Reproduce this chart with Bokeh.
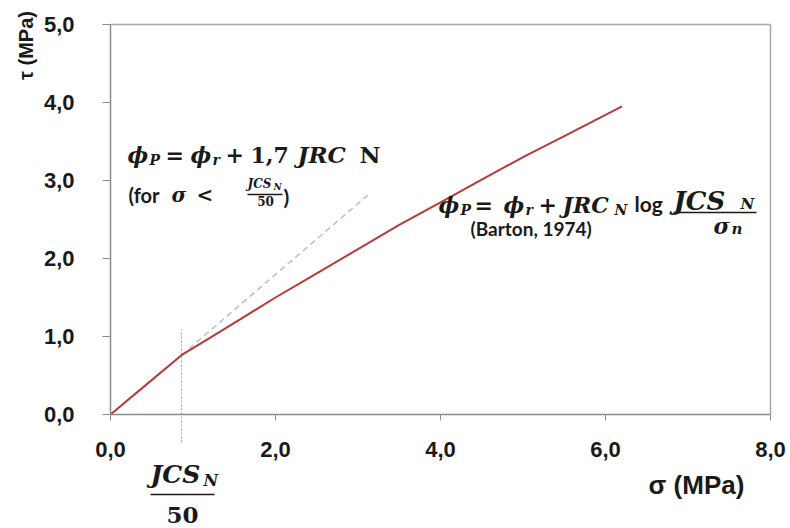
import math
from bokeh.plotting import figure
from bokeh.models import Range1d, Label, FixedTicker
from bokeh.embed import file_html
from bokeh.resources import INLINE

# ---- data ----
sigma = [0, 0.43, 0.86, 1.2, 1.6, 2.0, 2.5, 3.0, 3.5, 4.0, 4.5, 5.0, 5.5, 6.0, 6.2]
tau = [0, 0.38, 0.76, 0.98, 1.24, 1.50, 1.81, 2.12, 2.43, 2.72, 3.01, 3.30, 3.57, 3.84, 3.95]
linear_sigma = [0.86, 3.15]
linear_tau = [0.76, 2.84]
jcs50_sigma = 0.86
jcs50_line_top = 1.09
x_ticks = [0, 2, 4, 6, 8]
x_tick_labels = ["0,0", "2,0", "4,0", "6,0", "8,0"]
y_ticks = [0, 1, 2, 3, 4, 5]
y_tick_labels = ["0,0", "1,0", "2,0", "3,0", "4,0", "5,0"]
XMIN, XMAX, YMIN, YMAX = 0, 8, 0, 5

# pixel geometry of the data box (used to place annotations)
W, H = 790, 528
FX0, FY0, FW, FH = 110, 414, 660, 390
BASE_SHIFT = 7  # alphabetic labels render a little lower than their anchor


def dx(px):
    return XMIN + (px - FX0) * (XMAX - XMIN) / FW


def dy(py):
    return YMIN + (FY0 - py) * (YMAX - YMIN) / FH


p = figure(frame_width=W, frame_height=H, x_range=Range1d(dx(0), dx(W)), y_range=Range1d(dy(H), dy(0)),
           output_backend="svg", toolbar_location=None, min_border=0,
           min_border_left=0, min_border_right=0, min_border_top=0, min_border_bottom=0)
p.xgrid.visible = False
p.ygrid.visible = False
p.outline_line_color = None
p.background_fill_color = "white"
p.border_fill_color = "white"

for ax, ticks, labels, bounds in ((p.xaxis[0], x_ticks, x_tick_labels, (XMIN, XMAX)),
                                  (p.yaxis[0], y_ticks, y_tick_labels, (YMIN, YMAX))):
    ax.fixed_location = 0
    ax.bounds = bounds
    ax.ticker = FixedTicker(ticks=ticks)
    ax.major_label_overrides = {t: l for t, l in zip(ticks, labels)}
    ax.minor_tick_line_color = None
    ax.axis_line_color = "#8c8c8c"
    ax.axis_line_width = 1.5
    ax.major_tick_line_color = "#8c8c8c"
    ax.major_tick_in = 0
    ax.major_label_text_font = "Liberation Sans"
    ax.major_label_text_font_style = "bold"
    ax.major_label_text_font_size = "22px"
    ax.major_label_text_color = "#1a1a1a"
p.yaxis[0].major_tick_out = 8
p.yaxis[0].major_label_standoff = 28
p.xaxis[0].major_tick_out = 6
p.xaxis[0].major_label_standoff = 21

# plot box top and right borders
p.segment(x0=[XMIN, XMAX], y0=[YMAX, YMIN], x1=[XMAX, XMAX], y1=[YMAX, YMAX],
          line_color="#a6a6a6", line_width=1.5)

# ---- marks ----
p.line(linear_sigma, linear_tau, line_color="#b0c0cc", line_width=1.5, line_dash="6 4")
p.line([jcs50_sigma, jcs50_sigma], [dy(442), jcs50_line_top], line_color="#a0a8b0", line_width=1.2,
       line_dash="2 2")
p.line(sigma, tau, line_color="#b83a3a", line_width=2)

TXT = "#1a1a1a"
SERIF = "DejaVu Serif"
SANS = "Lato"


def lab(xp, yp, text, size, font=SERIF, style="bold italic", align="left", baseline="alphabetic", angle=0):
    if baseline == "alphabetic":
        yp = yp - BASE_SHIFT
    p.add_layout(Label(x=dx(xp), y=dy(yp), text=text, text_font=font, text_font_style=style,
                       text_font_size=f"{size}px", text_color=TXT, text_align=align,
                       text_baseline=baseline, angle=angle))


def bar(x1, x2, yp):
    p.line([dx(x1), dx(x2)], [dy(yp), dy(yp)], line_color=TXT, line_width=1.5)


# axis titles
lab(25, 45, "τ (MPa)", 20, font="Liberation Sans", style="bold", align="center", baseline="middle",
    angle=math.pi / 2)
lab(696, 491, "σ (MPa)", 26, font="Liberation Sans", style="bold", align="center")

# formula 1
lab(127, 161, "ϕ", 22)
lab(149, 166, "P", 14)
lab(165, 161, "=", 22, style="bold")
lab(190, 161, "ϕ", 22)
lab(212, 166, "r", 14)
lab(225, 161, "+", 22, style="bold")
lab(250, 161, "1,7", 22, style="bold")
lab(297, 161, "JRC", 23)
lab(359, 161, "N", 23, style="bold")
# (for sigma < JCS_N/50)
lab(128, 201, "(for", 20, font=SANS, style="bold")
lab(171, 201, "σ", 20)
lab(196, 201, "<", 20, style="bold")
lab(247, 190, "JCS", 12)
lab(273, 193, "N", 9)
bar(247, 282, 194)
lab(265, 207, "50", 12, style="bold", align="center")
lab(283, 203, ")", 21, font=SANS, style="bold")

# formula 2
lab(438, 211, "ϕ", 22)
lab(460, 216, "P", 14)
lab(474, 211, "=", 22, style="bold")
lab(503, 211, "ϕ", 22)
lab(525, 216, "r", 14)
lab(538, 211, "+", 22, style="bold")
lab(562, 211, "JRC", 22)
lab(614, 216, "N", 14)
lab(634, 210, "log", 21, font=SANS, style="bold")
lab(673, 207, "JCS", 26)
lab(740, 210, "N", 15)
bar(673, 756, 212)
lab(713, 232, "σ", 22)
lab(731, 235, "n", 15)
lab(470, 235, "(Barton, 1974)", 19, font=SANS, style="bold")

# JCS_N / 50 below axis
lab(150, 481, "JCS", 25)
lab(203, 487, "N", 16)
bar(150, 214, 494)
lab(182, 521, "50", 23, style="bold", align="center")

open("out.html", "w").write(file_html(p, INLINE))
